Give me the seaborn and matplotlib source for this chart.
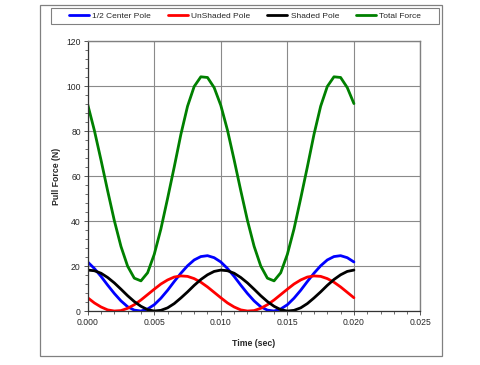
import numpy as np
import pandas as pd
import seaborn as sns
import matplotlib.pyplot as plt
from matplotlib.patches import Rectangle
from matplotlib.ticker import MultipleLocator, FormatStrFormatter

# Zeitachse (sec), Schritt 0.0005
time_sec = [0.0000, 0.0005, 0.0010, 0.0015, 0.0020, 0.0025, 0.0030, 0.0035, 0.0040, 0.0045,
            0.0050, 0.0055, 0.0060, 0.0065, 0.0070, 0.0075, 0.0080, 0.0085, 0.0090, 0.0095,
            0.0100, 0.0105, 0.0110, 0.0115, 0.0120, 0.0125, 0.0130, 0.0135, 0.0140, 0.0145,
            0.0150, 0.0155, 0.0160, 0.0165, 0.0170, 0.0175, 0.0180, 0.0185, 0.0190, 0.0195,
            0.0200]

half_center_pole = [21.8, 18.9, 15.4, 11.5, 7.8, 4.5, 1.9, 0.4, 0.0, 0.9,
                    2.8, 5.7, 9.2, 13.1, 16.8, 20.1, 22.7, 24.2, 24.6, 23.7,
                    21.8, 18.9, 15.4, 11.5, 7.8, 4.5, 1.9, 0.4, 0.0, 0.9,
                    2.8, 5.7, 9.2, 13.1, 16.8, 20.1, 22.7, 24.2, 24.6, 23.7,
                    21.8]

unshaded_pole = [5.9, 3.6, 1.8, 0.5, 0.0, 0.2, 1.2, 2.8, 4.9, 7.3,
                 9.7, 12.0, 13.8, 15.1, 15.6, 15.4, 14.4, 12.8, 10.7, 8.3,
                 5.9, 3.6, 1.8, 0.5, 0.0, 0.2, 1.2, 2.8, 4.9, 7.3,
                 9.7, 12.0, 13.8, 15.1, 15.6, 15.4, 14.4, 12.8, 10.7, 8.3,
                 5.9]

shaded_pole = [18.2, 17.9, 16.8, 14.9, 12.5, 9.7, 6.8, 4.2, 2.1, 0.6,
               0.0, 0.3, 1.4, 3.3, 5.8, 8.5, 11.4, 14.0, 16.1, 17.6,
               18.2, 17.9, 16.8, 14.9, 12.5, 9.7, 6.8, 4.2, 2.1, 0.6,
               0.0, 0.3, 1.4, 3.3, 5.8, 8.5, 11.4, 14.0, 16.1, 17.6,
               18.2]

total_force = [91.8, 80.3, 67.1, 53.4, 40.2, 28.7, 19.9, 14.6, 13.4, 17.0,
               25.2, 36.5, 50.0, 64.0, 78.5, 91.0, 99.8, 104.1, 103.8, 99.3,
               91.4, 80.4, 67.2, 53.5, 40.3, 28.8, 20.0, 14.6, 13.4, 17.0,
               25.2, 36.5, 50.0, 64.0, 78.5, 91.0, 99.8, 104.1, 103.8, 99.3,
               92.2]

series_names = ["1/2 Center Pole", "UnShaded Pole", "Shaded Pole", "Total Force"]
series_colors = ["#0000FF", "#FF0000", "#000000", "#008000"]

# Long-Format fuer seaborn
df = pd.concat([
    pd.DataFrame({"time": time_sec, "force": vals, "series": name})
    for name, vals in zip(series_names,
                          [half_center_pole, unshaded_pole, shaded_pole, total_force])
], ignore_index=True)

sns.set_style("white")
plt.rcParams["font.family"] = ["Liberation Sans", "DejaVu Sans"]

fig = plt.figure(figsize=(4.8, 3.65), dpi=100)
ax = fig.add_axes([0.1827, 0.1479, 0.6933, 0.7397])

sns.lineplot(data=df, x="time", y="force", hue="series", hue_order=series_names,
             palette=dict(zip(series_names, series_colors)), linewidth=2.0,
             ax=ax, legend=False)
for line in ax.lines:
    line.set_solid_joinstyle("round")

ax.set_xlim(0, 0.025)
ax.set_ylim(0, 120)
ax.xaxis.set_major_locator(MultipleLocator(0.005))
ax.xaxis.set_minor_locator(MultipleLocator(0.001))
ax.xaxis.set_major_formatter(FormatStrFormatter("%.3f"))
ax.yaxis.set_major_locator(MultipleLocator(20))
ax.yaxis.set_minor_locator(MultipleLocator(4))

ax.grid(True, which="major", color="#8a8a8a", linewidth=0.8)
ax.tick_params(which="major", direction="out", length=3, width=0.7,
               labelsize=6.2, pad=2, color="#555555")
ax.tick_params(which="minor", direction="out", length=2, width=0.6, color="#555555")
ax.tick_params(axis="x", which="both", bottom=True)
ax.tick_params(axis="y", which="both", left=True)

for side in ["top", "right"]:
    ax.spines[side].set_color("#808080")
    ax.spines[side].set_linewidth(1.0)
for side in ["left", "bottom"]:
    ax.spines[side].set_color("#333333")
    ax.spines[side].set_linewidth(0.9)

ax.set_xlabel("Time (sec)", fontsize=6.3, fontweight="bold", labelpad=9)
ax.set_ylabel("Pull Force (N)", fontsize=6.3, fontweight="bold", labelpad=4)

# Legende oben, Rahmen separat
handles = [plt.Line2D([], [], color=c, linewidth=2.0) for c in series_colors]
leg = fig.legend(handles, series_names, loc="center",
                 bbox_to_anchor=(245 / 480, 1 - 16 / 365),
                 ncol=4, fontsize=6, frameon=False,
                 handlelength=2.4, handletextpad=0.42, columnspacing=2.0,
                 borderaxespad=0, borderpad=0)
fig.patches.append(Rectangle((50.7 / 480, 1 - 24 / 365), 388.6 / 480, 16 / 365,
                             transform=fig.transFigure, fill=False,
                             edgecolor="#808080", linewidth=0.8))

# Rahmen um die gesamte Grafik
fig.patches.append(Rectangle((0.0833, 0.0233), 0.8365, 0.9638, transform=fig.transFigure,
                             fill=False, edgecolor="#808080", linewidth=0.9))

fig.savefig("out.png", dpi=100)
